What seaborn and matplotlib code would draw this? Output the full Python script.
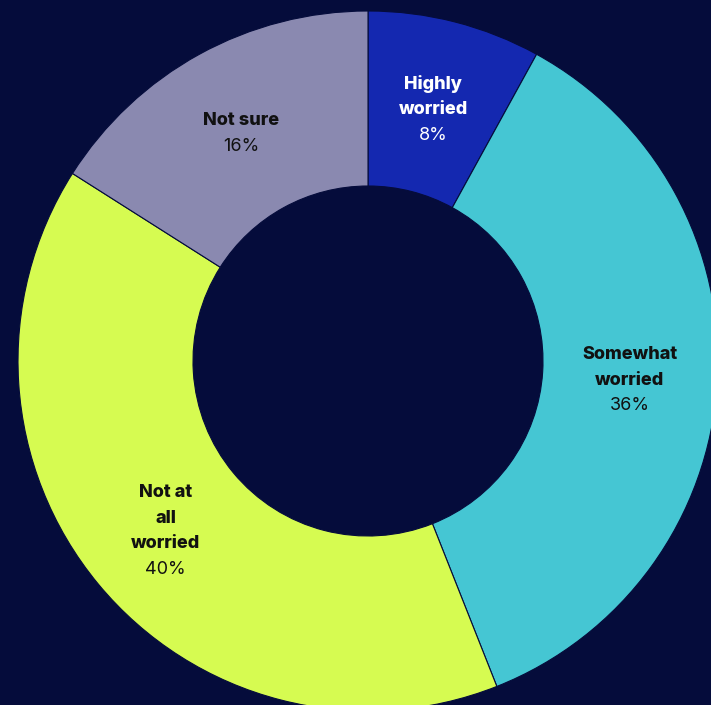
import numpy as np
import matplotlib
matplotlib.use("Agg")
import matplotlib.pyplot as plt
import seaborn as sns

# Survey answers, clockwise from 12 o'clock
categories = ["Highly\nworried", "Somewhat\nworried", "Not at\nall\nworried", "Not sure"]
shares = [8, 36, 40, 16]
pct_labels = ["8%", "36%", "40%", "16%"]

bg = "#050c3b"
palette = sns.color_palette(["#1428b0", "#45c6d3", "#d6fb51", "#8a89b0"])
text_colors = ["white", "#111111", "#111111", "#111111"]

sns.set_theme(style="white", rc={"figure.facecolor": bg, "axes.facecolor": bg})
plt.rcParams["font.family"] = ["Inter", "DejaVu Sans"]

W, H, DPI = 711, 705, 100
fig = plt.figure(figsize=(W / DPI, H / DPI), dpi=DPI)
ax = fig.add_axes([0, 0, 1, 1])

center = (368, H - 361)
outer, inner = 350, 175

wedges, _ = ax.pie(
    shares,
    colors=palette,
    startangle=90,
    counterclock=False,
    center=center,
    radius=outer,
    wedgeprops=dict(width=outer - inner, edgecolor=bg, linewidth=0.8),
    frame=True,
)
ax.set_xlim(0, W)
ax.set_ylim(0, H)
ax.set_aspect("equal")
ax.axis("off")

mid_r = (outer + inner) / 2
line_pt = 18.5
for w, name, pct, tc in zip(wedges, categories, pct_labels, text_colors):
    ang = np.deg2rad((w.theta1 + w.theta2) / 2)
    x = center[0] + mid_r * np.cos(ang)
    y = center[1] + mid_r * np.sin(ang)
    n_name = name.count("\n") + 1
    total = n_name + 1
    top = (total - 1) / 2 * line_pt - 2
    for i, line in enumerate(name.split("\n")):
        ax.annotate(line, (x, y), xytext=(0, top - i * line_pt), textcoords="offset points",
                    ha="center", va="center", fontsize=13, fontweight=800, color=tc)
    ax.annotate(pct, (x, y), xytext=(0, top - n_name * line_pt), textcoords="offset points",
                ha="center", va="center", fontsize=13, fontweight="normal", color=tc)

fig.savefig("out.png", dpi=DPI, facecolor=bg)
